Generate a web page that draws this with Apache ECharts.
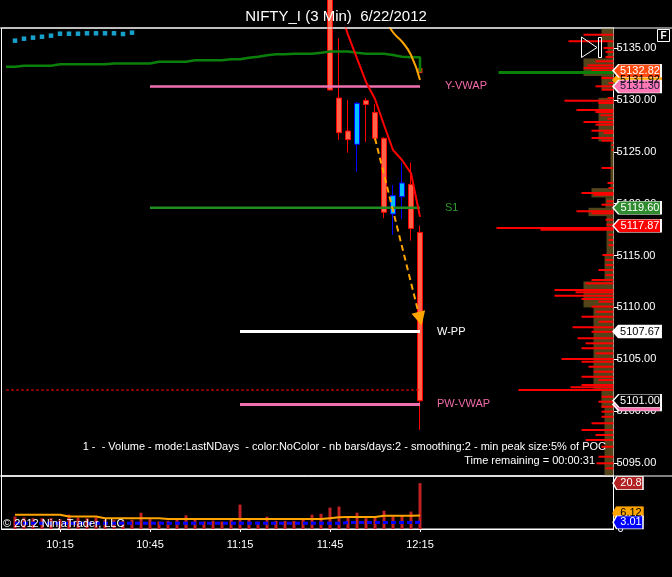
<!DOCTYPE html>
<html><head><meta charset="utf-8">
<script src="https://cdn.jsdelivr.net/npm/echarts@6/dist/echarts.min.js"></script>
<style>html,body{margin:0;padding:0;background:#000;}#c{width:672px;height:577px;}</style>
</head><body><div id="c"></div>
<script>
const FONT = "'Liberation Sans', Arial, sans-serif";

// ---------- time categories (3-minute bars) ----------
const firstBarMinutes = 9 * 60 + 57;
const categoryCount = 68;
const times = [];
for (let k = 0; k < categoryCount; k++) {
  const m = firstBarMinutes + 3 * k;
  times.push(Math.floor(m / 60) + ':' + String(m % 60).padStart(2, '0'));
}
const tickLabels = ['10:15', '10:45', '11:15', '11:45', '12:15'];

// ---------- price panel ----------
const priceMin = 5093.75, priceMax = 5136.93;

// candles (bar index, open, close, low, high)
const candleIndex = [36, 37, 38, 39, 40, 41, 42, 43, 44, 45, 46];
const candleOpen  = [5140.5, 5130.18, 5127.00, 5125.72, 5129.95, 5128.80, 5126.30, 5119.00, 5120.67, 5121.86, 5117.23];
const candleClose = [5130.95, 5126.84, 5126.17, 5129.67, 5129.56, 5126.30, 5119.16, 5120.77, 5121.99, 5117.60, 5101.00];
const candleLow   = [5130.95, 5126.14, 5124.91, 5123.08, 5125.96, 5126.10, 5118.60, 5117.00, 5118.50, 5116.43, 5098.20];
const candleHigh  = [5141.0, 5135.94, 5129.99, 5129.80, 5130.20, 5129.60, 5126.40, 5121.80, 5123.95, 5123.95, 5117.90];

// green stepped indicator, bars 0..46
const greenStep = [5133.20, 5133.30, 5133.30, 5133.30, 5133.30, 5133.43, 5133.43, 5133.43, 5133.43, 5133.43,
  5133.43, 5133.51, 5133.51, 5133.51, 5133.51, 5133.51, 5133.68, 5133.68, 5133.68, 5133.68,
  5133.82, 5133.82, 5133.82, 5133.82, 5133.91, 5133.91, 5134.07, 5134.16, 5134.30, 5134.40,
  5134.40, 5134.45, 5134.45, 5134.45, 5134.55, 5134.66, 5134.66, 5134.66, 5134.55, 5134.45,
  5134.45, 5134.45, 5134.33, 5134.16, 5134.11, 5134.11, 5132.72];

// cyan dots, bars 1..14
const cyanDotsStart = 1;
const cyanDots = [5135.71, 5135.90, 5136.00, 5136.09, 5136.19, 5136.38, 5136.38, 5136.38, 5136.42, 5136.42, 5136.42, 5136.42, 5136.35, 5136.48];

// red moving line, bars 37..46
const redLineStart = 37;
const redLine = [5139.0, 5136.26, 5134.00, 5131.73, 5130.09, 5127.58, 5125.17, 5124.21, 5122.93, 5118.74];

// orange curve, bars 42..46
const orangeCurveStart = 42;
const orangeCurve = [5138.0, 5136.52, 5135.61, 5134.33, 5131.92];

// orange-red marker at last bar
const lastMarker = 5132.82;

// horizontal levels
const yVwap = 5131.30, yVwapStart = 16;
const s1 = 5119.60, s1Start = 16;
const wpp = 5107.67, wppStart = 26;
const pwVwap = 5100.65, pwVwapStart = 26;
const redDashed = 5102.04, redDashedStart = 0;
const lastBar = 46;
const lastPrice = 5101.00;
const profilePocTag = 5117.87;

// projection arrow: [bar, price] -> [bar, price]
const arrowFrom = [41, 5126.30];
const arrowTo = [46, 5108.90];

// volume profile: red peaks [price, length], olive fill [top, bottom, width], green POC line
const profilePeaks = [
[5136.28,30],[5135.65,45],[5135.00,10],[5134.62,8],[5134.13,8],[5133.72,18],[5133.33,26],[5133.07,30],[5132.81,22],[5132.64,27],
[5132.11,12],[5131.63,5],[5131.31,18],[5130.98,12],[5130.18,6],[5129.92,49],[5129.70,15],[5129.03,37],[5128.83,18],[5128.52,13],
[5128.19,6],[5127.87,30],[5127.61,18],[5127.03,22],[5126.81,10],[5126.33,22],[5126.07,12],[5125.65,2],[5125.17,2],[5123.44,12],
[5121.99,6],[5121.51,5],[5121.03,32],[5120.86,20],[5120.23,7],[5119.90,12],[5119.26,37],[5119.07,22],[5118.45,8],[5117.97,7],
[5117.65,117],[5117.49,73],[5117.00,5],[5116.50,5],[5116.00,5],[5115.05,11],[5114.57,8],[5114.09,8],[5113.60,15],[5113.12,8],
[5112.64,22],[5112.32,28],[5111.67,59],[5111.45,38],[5111.13,59],[5110.81,32],[5110.55,15],[5110.07,22],[5109.58,18],[5109.10,32],
[5108.62,15],[5108.08,41],[5107.65,22],[5107.02,36],[5106.54,28],[5106.06,32],[5105.57,18],[5105.03,52],[5104.77,32],[5104.28,25],
[5103.80,20],[5103.32,32],[5103.00,15],[5102.52,32],[5102.30,43],[5102.04,95],[5101.39,12],[5100.91,15],[5100.43,12],[5099.95,12],
[5099.46,12],[5098.83,22],[5098.18,32],[5097.70,18],[5097.22,28],[5096.57,12],[5095.61,15],[5094.97,17],[5094.49,8]
];
const profileFill = [
[5136.9,5135.7,12],[5135.7,5134.0,6],[5134.0,5132.3,30],[5132.3,5131.0,12],[5130.2,5126.0,15],[5126.0,5121.5,3],
[5121.5,5120.6,22],[5120.6,5119.6,8],[5119.6,5118.8,25],[5118.8,5115.0,7],[5115.0,5112.5,9],[5112.5,5110.0,30],
[5110.0,5102.0,20],[5102.0,5100.3,12],[5100.3,5093.8,9]
];
const profileGreen = [[5132.64, 115]];

// ---------- volume panel, bars 0..46 ----------
const volume = [null, 5.7, 5.2, 4.9, 4.9, 4.9, 4.5, 6.5, 5.2, 4.9, 5.2, 4.2, 4.2, 3.7, 4.2, 7.4, 4.9, 3.4, 3.7, 4.2,
  6.2, 4.9, 3.4, 3.8, 3.4, 4.2, 11.1, 4.2, 3.4, 5.6, 3.7, 3.7, 3.7, 4.2, 6.5, 6.9, 9.7, 10.2, 5.2, 7.4,
  4.9, 5.7, 8.3, 5.7, 6.0, 7.9, 20.8];
const volAvgOrange = [null, 6.5, 6.5, 6.5, 6.5, 6.5, 6.5, 5.7, 5.7, 5.7, 5.7, 4.9, 4.9, 4.9, 4.9, 4.9, 4.9, 4.9, 4.5, 4.5,
  4.5, 4.5, 4.5, 4.5, 4.5, 4.5, 4.5, 4.5, 4.5, 4.5, 4.5, 4.5, 4.5, 4.5, 4.5, 4.5, 4.9, 5.3, 5.4, 5.4,
  5.4, 5.4, 6.0, 6.0, 6.0, 6.0, 6.12];
const volAvgBlue = [null, 2.6, 2.6, 2.6, 2.6, 2.6, 2.6, 2.6, 2.6, 2.6, 2.6, 2.6, 2.6, 2.6, 2.6, 2.6, 2.6, 2.6, 2.6, 2.6,
  2.6, 2.6, 2.6, 2.6, 2.6, 2.6, 2.6, 2.6, 2.6, 2.6, 2.6, 2.6, 2.6, 2.6, 2.6, 2.6, 2.6, 2.6, 2.9, 2.9,
  2.9, 2.9, 2.9, 2.9, 2.9, 2.9, 3.01];
const volMax = 24.04;

// ---------- helpers ----------
function spanFrom(start, arr) {
  const out = [];
  for (let i = 0; i < start; i++) out.push('-');
  return out.concat(arr);
}
function levelLine(value, start) {
  const out = [];
  for (let i = 0; i <= lastBar; i++) out.push(i >= start ? value : '-');
  return out;
}
const TAG_PATH = 'path://M0,6L6,0L50,0L50,12L6,12Z';
function tag(value, text, bg, fg, border) {
  return { coord: [categoryCount - 1, value], name: text,
    itemStyle: { color: bg, borderColor: border || bg, borderWidth: 1 },
    label: { color: fg } };
}
const tagMarkStyle = {
  symbol: TAG_PATH, symbolSize: [48, 13], symbolOffset: [28, 0], symbolKeepAspect: false,
  silent: true, animation: false,
  label: { show: true, position: 'inside', offset: [3, 0], fontSize: 11, fontFamily: FONT,
    formatter: p => p.name }
};
const showTick = (idx) => tickLabels.indexOf(times[idx]) >= 0;

const chart = echarts.init(document.getElementById('c'), null, { renderer: 'canvas' });

const gridBox = { left: 1.5, right: 58.5 };
const option = {
  backgroundColor: '#000000',
  animation: false,
  title: { text: 'NIFTY_I (3 Min)  6/22/2012', left: 'center', top: 4,
    textStyle: { color: '#ffffff', fontSize: 15, fontWeight: 'normal', fontFamily: FONT } },
  grid: [
    { left: gridBox.left, right: gridBox.right, top: 28, height: 448, show: true, borderColor: '#ffffff', borderWidth: 1, backgroundColor: 'transparent' },
    { left: gridBox.left, right: gridBox.right, top: 476, height: 53, show: true, borderColor: '#ffffff', borderWidth: 1, backgroundColor: 'transparent' },
    { left: gridBox.left, right: gridBox.right, top: 28, height: 448, show: false }
  ],
  xAxis: [
    { type: 'category', gridIndex: 0, data: times, boundaryGap: true, show: false },
    { type: 'category', gridIndex: 1, data: times, boundaryGap: true,
      axisLine: { lineStyle: { color: '#ffffff' } },
      axisTick: { show: true, interval: showTick, alignWithLabel: true, length: 3, lineStyle: { color: '#ffffff' } },
      axisLabel: { interval: showTick, color: '#ffffff', fontSize: 11, fontFamily: FONT, margin: 10 } },
    { type: 'value', gridIndex: 2, min: 0, max: 612, inverse: true, show: false }
  ],
  yAxis: [
    { type: 'value', gridIndex: 0, position: 'right', min: priceMin, max: priceMax, splitNumber: 8, scale: true,
      axisLine: { show: true, lineStyle: { color: '#ffffff' } },
      axisTick: { show: true, length: 5, lineStyle: { color: '#ffffff' } },
      axisLabel: { color: '#ffffff', fontSize: 11, fontFamily: FONT, margin: 3,
        showMinLabel: false, showMaxLabel: false, formatter: v => v.toFixed(2) },
      splitLine: { show: false } },
    { type: 'value', gridIndex: 1, position: 'right', min: 0, max: volMax,
      axisLine: { show: true, lineStyle: { color: '#ffffff' } },
      axisTick: { show: false },
      axisLabel: { color: '#ffffff', fontSize: 11, fontFamily: FONT, margin: 4, formatter: v => (v === 0 ? '0' : '') },
      splitLine: { show: false } },
    { type: 'value', gridIndex: 2, min: priceMin, max: priceMax, show: false }
  ],
  series: [
    { type: 'custom', xAxisIndex: 2, yAxisIndex: 2, data: profileFill, encode: { x: 2, y: 0 }, silent: true,
      renderItem: (params, api) => {
        const a = api.coord([api.value(2), api.value(0)]);
        const b = api.coord([0, api.value(1)]);
        return { type: 'rect', shape: { x: a[0], y: a[1], width: b[0] - a[0], height: b[1] - a[1] }, style: { fill: '#54441a' } };
      } },
    { type: 'custom', xAxisIndex: 2, yAxisIndex: 2, data: profilePeaks, encode: { x: 1, y: 0 }, silent: true,
      renderItem: (params, api) => {
        const a = api.coord([api.value(1), api.value(0)]);
        const b = api.coord([0, api.value(0)]);
        return { type: 'rect', shape: { x: a[0], y: a[1] - 1, width: b[0] - a[0], height: 2 }, style: { fill: '#ff0000' } };
      } },
    { type: 'custom', xAxisIndex: 2, yAxisIndex: 2, data: profileGreen, encode: { x: 1, y: 0 }, silent: true,
      renderItem: (params, api) => {
        const a = api.coord([api.value(1), api.value(0)]);
        const b = api.coord([0, api.value(0)]);
        return { type: 'rect', shape: { x: a[0], y: a[1] - 1.5, width: b[0] - a[0], height: 3 }, style: { fill: '#0a800a' } };
      } },
    { type: 'line', xAxisIndex: 0, yAxisIndex: 0, data: greenStep, step: 'end', symbol: 'none',
      lineStyle: { color: '#0a800a', width: 2.5 } },
    { type: 'scatter', xAxisIndex: 0, yAxisIndex: 0, data: spanFrom(cyanDotsStart, cyanDots), symbol: 'rect', symbolSize: 4.5,
      itemStyle: { color: '#1ec8ff' } },
    { type: 'line', data: levelLine(redDashed, redDashedStart), symbol: 'none',
      lineStyle: { color: '#ff0000', width: 1, type: [3, 2] } },
    { type: 'line', data: levelLine(yVwap, yVwapStart), symbol: 'none', lineStyle: { color: '#f070b0', width: 2.5 },
      endLabel: { show: true, formatter: 'Y-VWAP', color: '#f06aa8', fontSize: 11, fontFamily: FONT, distance: 25 } },
    { type: 'line', data: levelLine(s1, s1Start), symbol: 'none', lineStyle: { color: '#228b22', width: 2.5 },
      endLabel: { show: true, formatter: 'S1', color: '#2e9b2e', fontSize: 11, fontFamily: FONT, distance: 25 } },
    { type: 'line', data: levelLine(wpp, wppStart), symbol: 'none', lineStyle: { color: '#ffffff', width: 3 },
      endLabel: { show: true, formatter: 'W-PP', color: '#ffffff', fontSize: 11, fontFamily: FONT, distance: 17 } },
    { type: 'line', data: levelLine(pwVwap, pwVwapStart), symbol: 'none', lineStyle: { color: '#f070b0', width: 3 },
      endLabel: { show: true, formatter: 'PW-VWAP', color: '#f06aa8', fontSize: 11, fontFamily: FONT, distance: 17 } },
    { type: 'candlestick', xAxisIndex: 0, yAxisIndex: 0, barWidth: 5, clip: true,
      data: candleIndex.map((b, k) => [b, candleOpen[k], candleClose[k], candleLow[k], candleHigh[k]]),
      encode: { x: 0, y: [1, 2, 3, 4] },
      itemStyle: { color: '#00bfff', color0: '#ff6347', borderColor: '#0000ff', borderColor0: '#ff0000', borderWidth: 1 } },
    { type: 'line', data: spanFrom(redLineStart, redLine), symbol: 'none', lineStyle: { color: '#ff0000', width: 2 } },
    { type: 'line', data: spanFrom(orangeCurveStart, orangeCurve), symbol: 'none', smooth: true, lineStyle: { color: '#ffa500', width: 2 } },
    { type: 'scatter', data: levelLine(lastMarker, lastBar).map((v, i) => (i === lastBar ? v : '-')), symbol: 'rect', symbolSize: 5,
      itemStyle: { color: '#ff4500' } },
    { type: 'line', data: [], symbol: 'none',
      markLine: { silent: true, symbol: ['none', 'triangle'], symbolSize: [14, 14], animation: false,
        lineStyle: { color: '#ffa500', width: 2, type: [6, 4] }, label: { show: false },
        data: [[{ coord: arrowFrom }, { coord: arrowTo }]] },
      markPoint: Object.assign({}, tagMarkStyle, { data: [
        tag(orangeCurve[orangeCurve.length - 1], orangeCurve[orangeCurve.length - 1].toFixed(2), '#ffa500', '#000000'),
        tag(pwVwap, pwVwap.toFixed(2), '#ff78b4', '#000000', '#ffffff'),
        tag(lastMarker, lastMarker.toFixed(2), '#ff4a10', '#ffffff', '#ffffff'),
        tag(yVwap, yVwap.toFixed(2), '#ff78b4', '#1a1a40', '#ffffff'),
        tag(s1, s1.toFixed(2), '#2e8b2e', '#ffffff', '#ffffff'),
        tag(profilePocTag, profilePocTag.toFixed(2), '#ff0000', '#ffffff', '#ffffff'),
        tag(wpp, wpp.toFixed(2), '#ffffff', '#000000', '#ffffff'),
        tag(lastPrice, lastPrice.toFixed(2), '#000000', '#ffffff', '#ffffff')
      ] }) },
    { type: 'bar', xAxisIndex: 1, yAxisIndex: 1, data: volume, barWidth: 3, itemStyle: { color: '#c02020' } },
    { type: 'line', xAxisIndex: 1, yAxisIndex: 1, data: volAvgBlue, symbol: 'none',
      lineStyle: { color: '#0000ff', width: 3, type: [5, 3] } },
    { type: 'line', xAxisIndex: 1, yAxisIndex: 1, data: volAvgOrange, symbol: 'none',
      lineStyle: { color: '#ffa500', width: 2 },
      markPoint: Object.assign({}, tagMarkStyle, { symbolSize: [30, 13], symbolOffset: [19, 0], data: [
        tag(volume[lastBar], String(volume[lastBar]), '#b22222', '#ffffff', '#ffffff'),
        tag(volAvgOrange[lastBar] + 1.0, volAvgOrange[lastBar].toFixed(2), '#ffa500', '#000000'),
        tag(volAvgBlue[lastBar], volAvgBlue[lastBar].toFixed(2), '#0000ff', '#ffffff', '#ffffff')
      ] }) }
  ],
  graphic: [
    { type: 'line', z: 100, shape: { x1: 0, y1: 28, x2: 672, y2: 28 }, style: { stroke: '#ffffff', lineWidth: 1 } },
    { type: 'line', z: 100, shape: { x1: 0, y1: 476, x2: 672, y2: 476 }, style: { stroke: '#ffffff', lineWidth: 1 } },
    { type: 'text', z: 100, x: 606, y: 447, style: { text: '1 -  - Volume - mode:LastNDays  - color:NoColor - nb bars/days:2 - smoothing:2 - min peak size:5% of POC',
      fill: '#ffffff', font: '11px ' + FONT, textAlign: 'right', textVerticalAlign: 'middle' } },
    { type: 'text', z: 100, x: 595, y: 461, style: { text: 'Time remaining = 00:00:31',
      fill: '#ffffff', font: '11px ' + FONT, textAlign: 'right', textVerticalAlign: 'middle' } },
    { type: 'text', z: 100, x: 3, y: 524, style: { text: '\u00A9 2012 NinjaTrader, LLC',
      fill: '#ffffff', font: '11px ' + FONT, textAlign: 'left', textVerticalAlign: 'middle' } },
    { type: 'rect', z: 100, shape: { x: 657.5, y: 29.5, width: 12, height: 12 }, style: { fill: '#000000', stroke: '#ffffff', lineWidth: 1 } },
    { type: 'text', z: 101, x: 663.5, y: 36, style: { text: 'F', fill: '#ffffff', font: 'bold 10px ' + FONT, textAlign: 'center', textVerticalAlign: 'middle' } },
    { type: 'polygon', z: 100, shape: { points: [[581.5, 37], [581.5, 57.5], [597, 47.5]] }, style: { fill: 'none', stroke: '#ffffff', lineWidth: 1 } },
    { type: 'rect', z: 100, shape: { x: 598.5, y: 37.5, width: 3, height: 20 }, style: { fill: 'none', stroke: '#ffffff', lineWidth: 1 } }
  ]
};
chart.setOption(option);
</script></body></html>
